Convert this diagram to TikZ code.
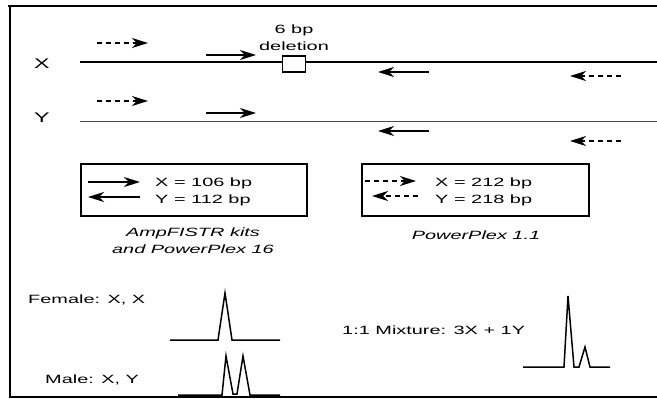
\documentclass[tikz,border=0pt]{standalone}
\usepackage{fontspec}
\setmainfont[FakeStretch=1.66]{Liberation Sans}
\usetikzlibrary{arrows.meta,positioning}

\begin{document}
\begin{tikzpicture}[
  x=1pt, y=-1pt,
  every node/.style={inner sep=0pt, font=\fontsize{12}{17}\selectfont},
  chrlabel/.style={font=\fontsize{14}{17}\selectfont},
  caption/.style={align=center, font=\fontsize{12}{17}\selectfont\itshape},
  primer/.style={-{Stealth[length=16pt,width=10pt,inset=5pt]}, line width=1.5pt},
  dprimer/.style={primer, dash pattern=on 5pt off 4pt},
  legendbox/.style={draw, line width=1.4pt},
  peak/.style={line width=1.5pt, line join=miter}
]
  \useasboundingbox (0,0) rectangle (657,399);
  % frame
  \draw[line width=1.4pt] (657,6) -- (10,6) -- (10,397) -- (657,397);
  \draw[line width=2.2pt] (8,6) -- (657,6);

  % chromosomes
  \node[chrlabel] (xl) at (42,64) {X};
  \node[chrlabel] (yl) at (42,118) {Y};
  \draw[line width=1.2pt] (80,62) -- (657,62);
  \draw[line width=1pt, black!70] (80,121) -- (657,121);
  \node[draw, fill=white, line width=1.5pt, minimum width=23pt, minimum height=16pt] (del) at (294,64) {};
  \node[align=center, above=4pt of del] (dellab) {6 bp\\deletion};

  % primers on X
  \draw[dprimer] (97,43) -- (148,43);
  \draw[primer] (206,55) -- (256,55);
  \draw[primer] (429,72) -- (378,72);
  \draw[dprimer] (621,76) -- (570,76);
  % primers on Y
  \draw[dprimer] (97,101) -- (148,101);
  \draw[primer] (206,113) -- (256,113);
  \draw[primer] (429,131) -- (378,131);
  \draw[dprimer] (621,141) -- (570,141);

  % legends
  \draw[legendbox] (81,164) rectangle (307,216);
  \draw[primer] (88,182) -- (140,182);
  \draw[primer] (140,197) -- (88,197);
  \node[anchor=west] (ax) at (155,183) {X = 106 bp};
  \node[anchor=west] (ay) at (155,200) {Y = 112 bp};
  \node[caption] (acap) at (193,241) {AmpFISTR kits\\and PowerPlex 16};

  \draw[legendbox] (362,164) rectangle (589,216);
  \draw[dprimer] (365,181) -- (416,181);
  \draw[dprimer] (418,196) -- (372,196);
  \node[anchor=west] (px) at (435,183) {X = 212 bp};
  \node[anchor=west] (py) at (435,200) {Y = 218 bp};
  \node[caption] (pcap) at (476,235) {PowerPlex 1.1};

  % electropherograms
  \node[anchor=west] (fem) at (28,300) {Female: X, X};
  \draw[peak] (170,340) -- (218,340) -- (225,293) -- (232,340) -- (280,340);
  \node[anchor=west] (mal) at (45,380) {Male: X, Y};
  \draw[peak] (178,395) -- (222,395) -- (226,356) -- (233,394) -- (237,394) -- (243,356) -- (250,395) -- (280,395);
  \node[anchor=west] (mix) at (342,330) {1:1 Mixture: 3X + 1Y};
  \draw[peak] (523,367) -- (564,367) -- (568,296) -- (574,367) -- (579,367) -- (585,347) -- (590,367) -- (610,367);
\end{tikzpicture}
\end{document}
